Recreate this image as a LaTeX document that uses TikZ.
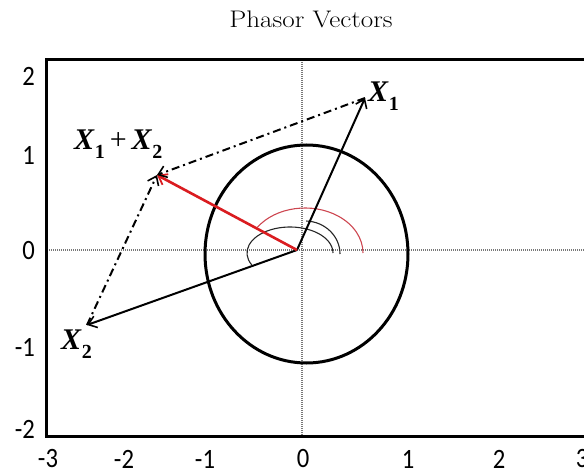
\documentclass[tikz,border=0pt]{standalone}
\usepackage{fontspec}
\usetikzlibrary{arrows.meta}
\newfontfamily\lblfont{Liberation Serif}
\newfontfamily\axfont{Carlito}
\definecolor{redv}{RGB}{218,28,32}
\definecolor{redarc}{RGB}{205,70,80}
\definecolor{axgray}{RGB}{120,120,120}
\newcommand\Xsub[1]{{\bfseries\itshape X}\kern0.02em\raisebox{-0.3em}{\fontsize{20}{20}\selectfont\bfseries #1}}
\newcommand\tl[1]{\scalebox{0.88}[1]{#1}}
\tikzset{
  axisline/.style={draw=axgray, line width=1.1pt, dash pattern=on 1pt off 1pt},
  framebox/.style={draw=black, line width=3pt},
  vecline/.style={draw=black, line width=2pt, -{Straight Barb[length=8pt,width=12pt,line width=1.6pt]}},
  sumline/.style={draw=redv, line width=2.6pt, -{Straight Barb[length=8pt,width=12pt,line width=1.8pt]}},
  ddline/.style={draw=black, line width=2pt, dash pattern=on 8pt off 4pt on 2pt off 4pt, -{Straight Barb[length=8pt,width=12pt,line width=1.6pt]}},
  unitcirc/.style={draw=black, line width=3pt},
  anglearc/.style={draw=black!85, line width=1.1pt},
  redarcs/.style={draw=redarc, line width=1.1pt},
  ticklab/.style={font=\axfont\fontsize{28}{28}\selectfont, inner sep=0pt},
  veclab/.style={font=\lblfont\fontsize{30}{30}\selectfont, inner sep=0pt, anchor=base west},
}
\begin{document}
\begin{tikzpicture}[x=1pt,y=-1pt]
\useasboundingbox (0,0) rectangle (584,476);
% title
\node[font=\fontsize{24}{24}\selectfont, anchor=base, inner sep=0pt] (title) at (311,27.7) {\scalebox{1.13}[1]{Phasor Vectors}};
% frame and axes (clipped at right border)
\begin{scope}
\clip (0,0) rectangle (584,476);
\draw[axisline] (47,250) -- (600,250);
\draw[axisline] (302,60) -- (302,436);
\draw[framebox] (46.5,60) rectangle (620,436.5);
\node[ticklab] (x3) at (582,459) {\tl{3}};
\end{scope}
% tick labels
\node[ticklab, anchor=east] (y2) at (35,76) {\tl{2}};
\node[ticklab, anchor=east] (y1) at (35,155) {\tl{1}};
\node[ticklab, anchor=east] (y0) at (35,251) {\tl{0}};
\node[ticklab, anchor=east] (ym1) at (35,347) {\tl{-1}};
\node[ticklab, anchor=east] (ym2) at (35,429) {\tl{-2}};
\node[ticklab] (xm3) at (48,459) {\tl{-3}};
\node[ticklab] (xm2) at (124,459) {\tl{-2}};
\node[ticklab] (xm1) at (205,459) {\tl{-1}};
\node[ticklab] (x0) at (303,459) {\tl{0}};
\node[ticklab] (x1) at (408,459) {\tl{1}};
\node[ticklab] (x2) at (499,459) {\tl{2}};
% unit circle
\draw[unitcirc] (306.5,254) ellipse [x radius=101.5, y radius=109];
% angle arcs
\draw[anglearc] (290,253) ++(153:43 and 26) arc[start angle=153, end angle=360, x radius=43, y radius=26];
\draw[anglearc] (305,254) ++(272:35 and 33) arc[start angle=272, end angle=360, x radius=35, y radius=33];
\draw[redarcs] (305,253) ++(215:58 and 45) arc[start angle=215, end angle=360, x radius=58, y radius=45];
% points
\coordinate (O) at (297,250);
\coordinate (T1) at (365,98);
\coordinate (T2) at (87,325);
\coordinate (S) at (157,175);
% vectors
\draw[vecline] (O) -- (T1);
\draw[vecline] (O) -- (T2);
\draw[sumline] (O) -- (S);
\draw[ddline] (T1) -- (S);
\draw[ddline] (T2) -- (S);
% labels
\node[veclab] (l1) at (368,102) {\Xsub{1}};
\node[veclab] (l12) at (74,150) {\Xsub{1}\,{+}\,\Xsub{2}};
\node[veclab] (l2) at (61,349) {\Xsub{2}};
\end{tikzpicture}
\end{document}
